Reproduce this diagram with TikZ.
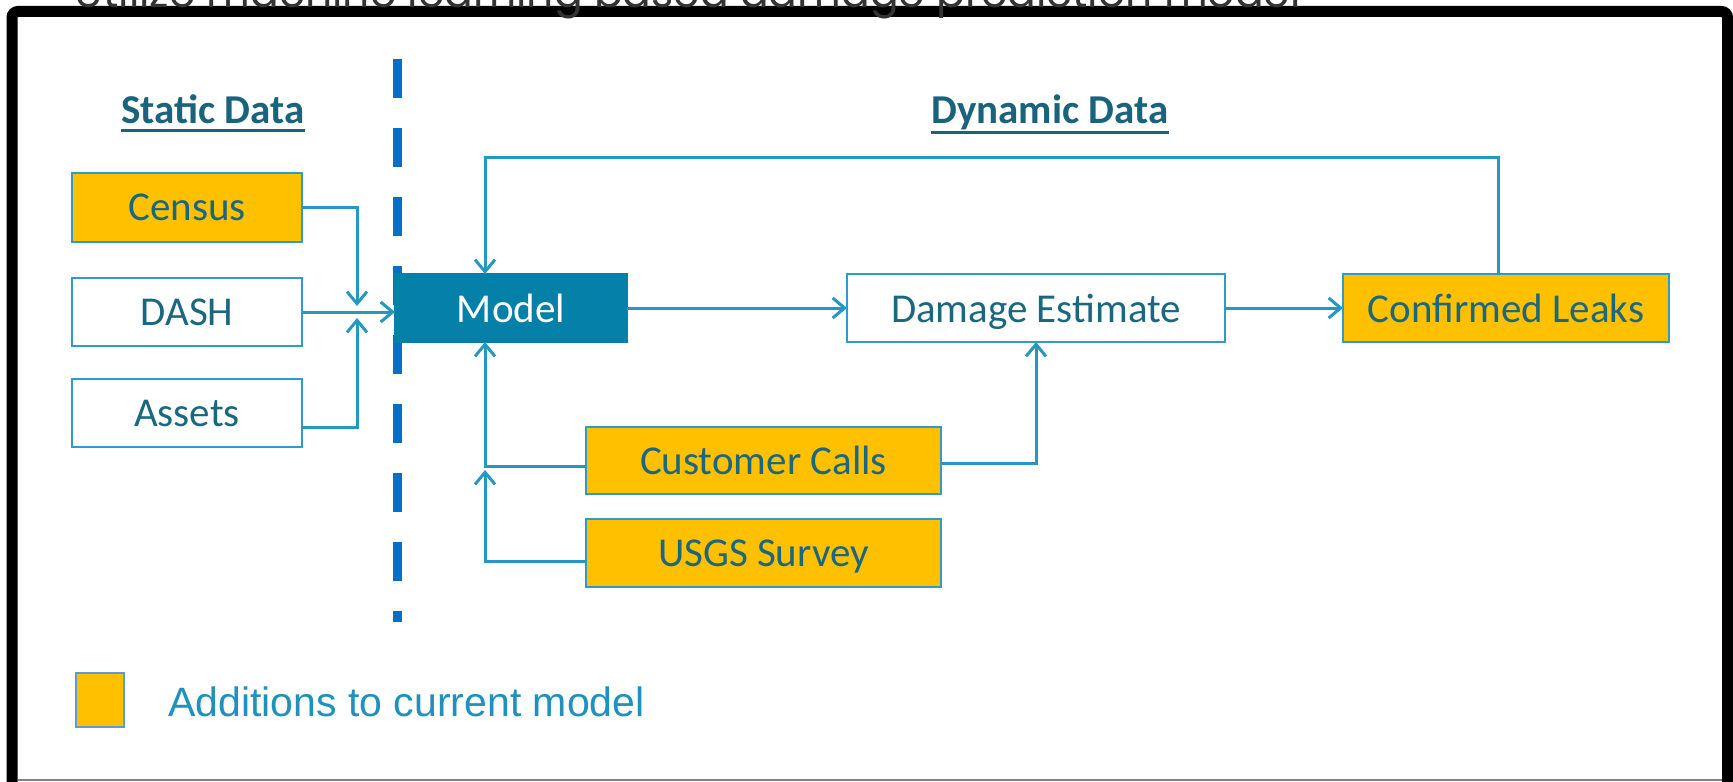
\documentclass[tikz,border=0pt]{standalone}
\usepackage{fontspec}
\setmainfont{Carlito}
\newfontfamily\arialfont{Liberation Sans}
\newfontfamily\titlefont{Poppins}
\usetikzlibrary{arrows.meta,calc}
\definecolor{gold}{HTML}{FFC000}
\definecolor{edgeblue}{HTML}{2E9CC6}
\definecolor{lineblue}{HTML}{2796C0}
\definecolor{boxtext}{HTML}{1A6780}
\definecolor{modelblue}{HTML}{0581A9}
\definecolor{dashblue}{HTML}{0A6FC2}
\definecolor{legendblue}{HTML}{1E91BF}
\definecolor{legendedge}{HTML}{5B9BD5}
\definecolor{headteal}{HTML}{19637C}
\definecolor{titlegray}{HTML}{333333}
\tikzset{
  bx/.style={draw=edgeblue, line width=1.2pt, inner sep=0pt, outer sep=0pt,
    minimum width=115pt, minimum height=34pt, text=boxtext,
    text depth=0pt,
    font=\fontsize{20.5}{24}\selectfont},
  ybx/.style={bx, fill=gold},
  wbx/.style={bx, fill=white},
  conn/.style={draw=lineblue, line width=1.5pt},
  arr/.style={conn, -{Straight Barb[length=6pt,width=10pt]}},
  head/.style={anchor=base, inner sep=0pt, text=headteal,
    font=\bfseries\fontsize{20.5}{24}\selectfont},
}
\begin{document}
\begin{tikzpicture}[x=0.5pt,y=-0.5pt]
\useasboundingbox (0,0) rectangle (1733,781);
\clip (0,0) rectangle (1733,781);
\fill[white] (0,0) rectangle (1733,781);
% frame
\draw[black, line width=5.5pt, rounded corners=3pt] (12,820) -- (12,11.5) -- (1727.5,11.5) -- (1727.5,820);
\draw[gray, line width=1pt] (18,780) -- (1722,780);
% title (cut off)
\node[anchor=base west, inner sep=0pt, text=titlegray] (title) at (74,8)
  {\resizebox{613pt}{!}{\titlefont Utilize machine learning based damage prediction model}};
% headings
\node[head] (static) at (213,124) {Static Data};
\node[head] (dynamic) at (1050,124) {Dynamic Data};
\draw[headteal, line width=1.2pt] ([yshift=-3.2pt]static.base west) -- ([yshift=-3.2pt]static.base east);
\draw[headteal, line width=1.2pt] ([yshift=-4.2pt]dynamic.base west) -- ([yshift=-4.2pt]dynamic.base east);
% dashed divider
\draw[dashblue, line width=4.5pt, dash pattern=on 19.5pt off 15pt] (397,59) -- (397,622);
% boxes
\node[ybx, minimum height=34.5pt] (census) at (187,207.5) {Census};
\node[wbx] (dash) at (187,312) {DASH};
\node[wbx] (assets) at (187,413) {Assets};
\node[bx, fill=modelblue, draw=modelblue, text=white, minimum width=116pt] (model) at (511,308) {Model};
\node[wbx, minimum width=189pt] (damage) at (1036,308) {Damage Estimate};
\node[ybx, minimum width=163pt] (leaks) at (1506,308) {Confirmed Leaks};
\node[ybx, minimum width=177.5pt, minimum height=33.5pt] (calls) at (763.5,460.5) {Customer Calls};
\node[ybx, minimum width=177.5pt] (usgs) at (763.5,553) {USGS Survey};
% legend
\node[draw=legendedge, fill=gold, line width=1.2pt, inner sep=0pt, minimum width=24pt, minimum height=27pt] (legbox) at (100,700) {};
\node[anchor=base west, inner sep=0pt, text=legendblue, font=\arialfont\fontsize{20.5}{24}\selectfont] (legtext) at (168,716) {Additions to current model};
% junction coordinates
\coordinate (jtop) at (357,306);
\coordinate (jbot) at (357,318);
\coordinate (cjunc) at (485,470);
\coordinate (fbtop) at (485,157);
% connectors
\draw[arr] (census.east) -| (jtop);
\draw[arr] (dash.east) -- (dash.east -| model.west);
\draw[arr] ([yshift=-7pt]assets.east) -| (jbot);
\draw[arr] ([yshift=-2.75pt]calls.west) -| ([xshift=-13pt]model.south);
\draw[arr] ([yshift=-4pt]usgs.west) -| (cjunc);
\draw[arr] (model.east) -- (damage.west);
\draw[arr] ([yshift=-1.25pt]calls.east) -| (damage.south);
\draw[arr] (damage.east) -- (leaks.west);
\draw[arr] ([xshift=-4pt]leaks.north) |- (fbtop) -- ([xshift=-13pt]model.north);
\end{tikzpicture}
\end{document}
